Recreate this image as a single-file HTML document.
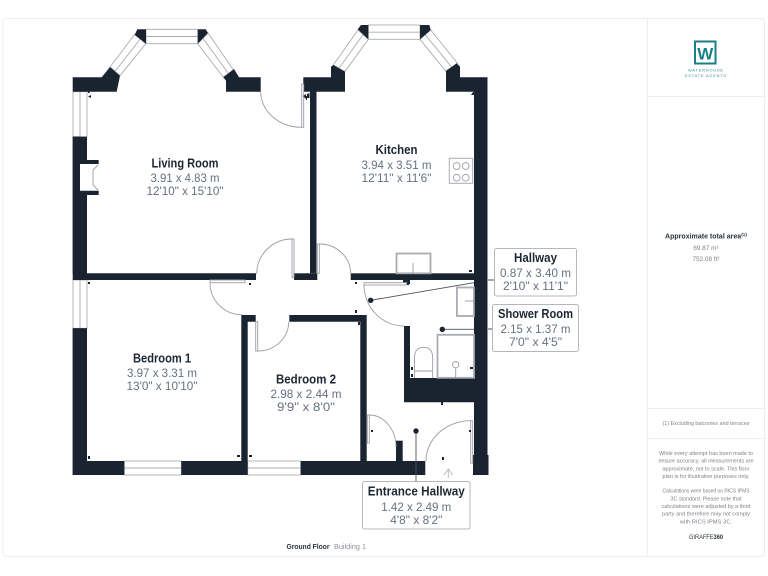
<!DOCTYPE html>
<html><head><meta charset="utf-8"><style>
html,body{margin:0;padding:0;background:#fff;width:768px;height:576px;overflow:hidden}
svg{display:block}
text{font-family:"Liberation Sans",sans-serif;text-anchor:middle}
.t{font-weight:bold;font-size:12.5px;fill:#1d2733}
.d{font-size:12px;fill:#667180}
.w{fill:#1a2431}
.g{fill:#fff;stroke:#a9adb2;stroke-width:.9}
.l{fill:none;stroke:#9a9ea4;stroke-width:.9}
.lb{fill:#fff;stroke:#b4b8bc;stroke-width:1}
.p{stroke:#4a525c;stroke-width:.9;fill:none}
.s{font-size:5.6px;fill:#7d838a}
.f{fill:#fff;stroke:#a9adb2;stroke-width:1.8}
</style></head><body>
<svg width="768" height="576" viewBox="0 0 768 576" xmlns="http://www.w3.org/2000/svg">
<rect x="3" y="18.5" width="761.5" height="538" rx="3" fill="#fff" stroke="#eceef0"/>
<path d="M647.5 18.5V556.5M647.5 96.5H764.5M647.5 408.5H764.5M647.5 438.5H764.5" stroke="#eceef0" fill="none"/>

<!-- windows -->
<g class="g">
<rect x="146" y="29.3" width="52" height="14.4"/><path d="M146 36.5H198"/>
<path d="M135 34L110 67L120 75.7L145.7 43.7Z"/><path d="M140.3 39L115 71.3"/>
<path d="M208 33L233.5 70L223.3 77.3L197.7 43.7Z"/><path d="M203 38.3L228.5 73.6"/>
<rect x="368.3" y="25" width="51.7" height="14.3"/><path d="M368.3 32.2H420"/>
<path d="M358 30L333.3 65L345 71.5L368.3 39.3Z"/><path d="M363 34.7L339 68.3"/>
<path d="M430.7 30L457.7 63.5L445.7 71L420 39.3Z"/><path d="M425.3 34.7L451.7 67.2"/>
<rect x="73" y="91.7" width="14" height="45"/><path d="M80 91.7V136.7"/>
<rect x="73" y="280" width="14" height="48.3"/><path d="M80 280V328.3"/>
<rect x="124.3" y="461" width="57" height="14"/><path d="M124.3 468H181.3"/>
<rect x="247.7" y="461" width="53" height="14"/><path d="M247.7 468H300.7"/>
</g>

<!-- walls -->
<g class="w">
<path d="M72.7 77.3H101.7L110 67L120 75.7L116.7 91.7H72.7Z"/>
<path d="M137.3 29.3H146V43.7L134.7 35Z"/>
<path d="M197.7 29.3H205.7L208 33L197.7 43.7Z"/>
<path d="M234 69L239 77.3H260.7V91.7H226V80.7L223.3 77.3Z"/>
<path d="M303.3 77.3H331V66.7L333.3 65L345 71.7V91.7H316.5V273.3H310V91.7H303.3Z"/>
<path d="M361 25H368.3V39.3L357.7 29.3Z"/>
<path d="M420 25H429.3L430.7 30L420 39.3Z"/>
<path d="M446 71L456.7 63.3L460 66.7V77.3H487.5V455H488.5V475H473V455H474V91.7H446Z"/>
<path d="M72.7 136.7H87V160H98.7V164H80V190.7H98.7V195H87V273.3H256V280H87V328.3H87V461H124.3V475H72.7V328.3H87V280H72.7V273.3Z" fill-rule="nonzero"/>
<rect x="72.7" y="136.7" width="7.3" height="136.6"/>
<rect x="72.7" y="328.3" width="14.3" height="146.7"/>
<rect x="181.3" y="461" width="66.4" height="14"/>
<path d="M241.3 315H255.7V321.7H247.7V461H241.3Z"/>
<path d="M289.3 315H366.7V461H360.3V321.7H289.3Z"/>
<rect x="294" y="273.3" width="23.3" height="6.7"/>
<rect x="350.7" y="273.3" width="123.5" height="6.7"/>
<rect x="403" y="280" width="7" height="4"/>
<rect x="300.7" y="461" width="124.6" height="14"/>
<rect x="396" y="440.7" width="6.7" height="20.3"/>
<path d="M404 326H410V378H474V402.3H404Z"/>
</g>

<!-- fireplace inner -->
<path d="M98 165L93 170V185L98 190" class="l"/>

<!-- doors -->
<g class="l">
<rect x="301.7" y="84" width="2" height="43.3" fill="#fff"/><path d="M260.7 91.7A41 35.6 0 0 0 301.7 127.3"/>
<rect x="292" y="239" width="2" height="38.7" fill="#fff"/><path d="M292 239A35.3 35 0 0 0 256.7 274"/>
<rect x="317.3" y="244" width="2" height="29.3" fill="#fff"/><path d="M319.3 244A31.2 29 0 0 1 350.5 273"/>
<rect x="210" y="280" width="35" height="2.7" fill="#fff"/><path d="M210 282.7A31.7 32 0 0 0 241.7 314.7"/>
<rect x="255.7" y="321.7" width="2" height="29.3" fill="#fff"/><path d="M257.7 351A31 29.3 0 0 0 288.7 321.7"/>
<rect x="364" y="282.7" width="42.7" height="2.3" fill="#fff"/><path d="M364 285A40 41 0 0 0 404 326"/>
<rect x="367.3" y="415" width="2" height="28" fill="#fff"/><path d="M369.3 415A26.7 32 0 0 1 396 447"/>
<rect x="470.7" y="420.7" width="2" height="42.3" fill="#fff"/><path d="M470.7 420.7A44.7 40.3 0 0 0 426 461"/>
<path d="M444 475L448.3 469L452.7 475M448.3 469V478" stroke="#b5b8bc"/>
</g>

<!-- fixtures -->
<rect class="f" x="396.5" y="253.5" width="34" height="19.8"/><path class="l" d="M413 263V273"/>
<rect class="f" x="456.9" y="287.5" width="17" height="28.5"/><path class="l" d="M465 301H474"/>
<rect class="f" x="437.5" y="334.8" width="36.5" height="43"/>
<circle class="l" cx="455.7" cy="364.7" r="3.2"/><path class="l" d="M455.7 368V378"/>
<path class="l" d="M414.5 378V358Q414.5 347.3 423.5 347.3Q432.7 347.3 432.7 358V378M414.5 371H432.7"/>
<rect x="449.3" y="158.3" width="23.4" height="25" fill="#fff" stroke="#a9adb2"/>
<g class="l"><circle cx="456.7" cy="166" r="3.4"/><circle cx="465.7" cy="166" r="3.4"/><circle cx="456.7" cy="177.7" r="3.4"/><circle cx="465.7" cy="177.7" r="3.4"/></g>

<!-- ticks -->
<g class="w">
<path d="M88 96.5L91 95V98ZM303 96L306 94V99ZM306 96H307V100H306Z"/>
<path d="M307 94L309.5 93V98H307ZM473 92H475V95H471Z"/>
<path d="M88 89.5L90 93H88ZM87 275H90V278H87Z"/>
<rect x="249" y="283" width="2" height="2"/>
<rect x="355" y="282" width="2" height="2"/>
<rect x="355" y="310" width="2" height="3"/>
<rect x="358" y="322" width="2" height="3"/>
<rect x="407" y="283" width="2" height="2"/>
<rect x="441" y="402" width="2" height="3"/>
<rect x="371" y="430" width="2" height="2"/>
<rect x="469" y="430" width="2" height="2"/>
<rect x="442" y="457" width="2" height="3"/>
<rect x="88" y="282" width="2" height="2"/>
<rect x="88" y="456" width="2" height="3"/>
<rect x="237" y="455" width="3" height="2"/>
<rect x="249" y="455" width="3" height="2"/>
<rect x="411" y="367" width="2" height="3"/>
<rect x="411" y="374" width="2" height="3"/>
<rect x="470" y="367" width="3" height="2"/>
<rect x="469" y="270" width="3" height="2"/>
</g>

<!-- pointers -->
<g class="p">
<path d="M370.7 300.3L474 282.7M488 280H494"/>
<path d="M442.3 329.3H474M488 329H492.3"/>
<path d="M416 431V481.3"/>
</g>
<circle class="w" cx="370.7" cy="300.3" r="2.7"/>
<circle class="w" cx="442.3" cy="329.3" r="2.7"/>
<circle class="w" cx="416" cy="431" r="2.7"/>

<!-- label boxes -->
<rect class="lb" x="494.5" y="248.5" width="82" height="47.5" rx="2"/>
<rect class="lb" x="492.5" y="304.5" width="86" height="47" rx="2"/>
<rect class="lb" x="362.5" y="481.5" width="107.5" height="47.5" rx="2"/>

<!-- labels -->
<text class="t" x="185" y="167.5" textLength="67" lengthAdjust="spacingAndGlyphs">Living Room</text>
<text class="d" x="185" y="182" textLength="69" lengthAdjust="spacingAndGlyphs">3.91 x 4.83 m</text>
<text class="d" x="185" y="195" textLength="77" lengthAdjust="spacingAndGlyphs">12'10" x 15'10"</text>
<text class="t" x="396.5" y="154" textLength="42" lengthAdjust="spacingAndGlyphs">Kitchen</text>
<text class="d" x="396.5" y="169" textLength="70" lengthAdjust="spacingAndGlyphs">3.94 x 3.51 m</text>
<text class="d" x="396.5" y="182" textLength="70" lengthAdjust="spacingAndGlyphs">12'11" x 11'6"</text>
<text class="t" x="162" y="362.5" textLength="58" lengthAdjust="spacingAndGlyphs">Bedroom 1</text>
<text class="d" x="162" y="377" textLength="70" lengthAdjust="spacingAndGlyphs">3.97 x 3.31 m</text>
<text class="d" x="162" y="390" textLength="71" lengthAdjust="spacingAndGlyphs">13'0" x 10'10"</text>
<text class="t" x="306" y="383.5" textLength="60" lengthAdjust="spacingAndGlyphs">Bedroom 2</text>
<text class="d" x="306" y="398" textLength="71" lengthAdjust="spacingAndGlyphs">2.98 x 2.44 m</text>
<text class="d" x="306" y="411" textLength="58" lengthAdjust="spacingAndGlyphs">9'9" x 8'0"</text>
<text class="t" x="535.5" y="262" textLength="43" lengthAdjust="spacingAndGlyphs">Hallway</text>
<text class="d" x="535.5" y="277" textLength="71" lengthAdjust="spacingAndGlyphs">0.87 x 3.40 m</text>
<text class="d" x="535.5" y="290" textLength="65" lengthAdjust="spacingAndGlyphs">2'10" x 11'1"</text>
<text class="t" x="535.5" y="318" textLength="75" lengthAdjust="spacingAndGlyphs">Shower Room</text>
<text class="d" x="535.5" y="333" textLength="70" lengthAdjust="spacingAndGlyphs">2.15 x 1.37 m</text>
<text class="d" x="535.5" y="346" textLength="53" lengthAdjust="spacingAndGlyphs">7'0" x 4'5"</text>
<text class="t" x="416.3" y="495.5" textLength="97" lengthAdjust="spacingAndGlyphs">Entrance Hallway</text>
<text class="d" x="416.3" y="511" textLength="70" lengthAdjust="spacingAndGlyphs">1.42 x 2.49 m</text>
<text class="d" x="416.3" y="524" textLength="52" lengthAdjust="spacingAndGlyphs">4'8" x 8'2"</text>

<text x="308" y="549" style="font-size:7.6px;font-weight:bold;fill:#2a323c" textLength="43" lengthAdjust="spacingAndGlyphs">Ground Floor</text>
<text x="350" y="549" style="font-size:7.6px;fill:#8b9098" textLength="32" lengthAdjust="spacingAndGlyphs">Building 1</text>

<!-- logo -->
<rect x="695" y="41.5" width="20.5" height="22" fill="none" stroke="#1a7f86" stroke-width="2"/>
<text x="705.2" y="59.5" style="font-size:17px;font-weight:bold;fill:#1a7f86" textLength="16" lengthAdjust="spacingAndGlyphs">W</text>
<text x="705.5" y="71.5" style="font-size:3.9px;fill:#2f8a91" textLength="35">WATERHOUSE</text>
<text x="705.5" y="77" style="font-size:3.9px;fill:#2f8a91" textLength="41">ESTATE AGENTS</text>

<!-- right panel -->
<text x="706" y="238.5" style="font-size:7.6px;font-weight:bold;fill:#2a323c" textLength="82" lengthAdjust="spacingAndGlyphs">Approximate total area⁽¹⁾</text>
<text x="706" y="250" style="font-size:6.4px;fill:#7d838a">69.87 m²</text>
<text x="706" y="261" style="font-size:6.4px;fill:#7d838a">752.08 ft²</text>
<text class="s" x="706" y="425" textLength="87" lengthAdjust="spacingAndGlyphs">(1) Excluding balconies and terraces</text>
<text class="s" x="706" y="455" textLength="94" lengthAdjust="spacingAndGlyphs">While every attempt has been made to</text>
<text class="s" x="706" y="462.7" textLength="95" lengthAdjust="spacingAndGlyphs">ensure accuracy, all measurements are</text>
<text class="s" x="706" y="470.3" textLength="87" lengthAdjust="spacingAndGlyphs">approximate, not to scale. This floor</text>
<text class="s" x="706" y="478" textLength="87" lengthAdjust="spacingAndGlyphs">plan is for illustrative purposes only.</text>
<text class="s" x="706" y="492.7" textLength="87" lengthAdjust="spacingAndGlyphs">Calculations were based on RICS IPMS</text>
<text class="s" x="706" y="500.3" textLength="71" lengthAdjust="spacingAndGlyphs">3C standard. Please note that</text>
<text class="s" x="706" y="508" textLength="89" lengthAdjust="spacingAndGlyphs">calculations were adjusted by a third</text>
<text class="s" x="706" y="515.7" textLength="88" lengthAdjust="spacingAndGlyphs">party and therefore may not comply</text>
<text class="s" x="706" y="523.3" textLength="52" lengthAdjust="spacingAndGlyphs">with RICS IPMS 3C.</text>
<text x="706" y="539" style="font-size:6.2px;fill:#2a323c" textLength="34" lengthAdjust="spacingAndGlyphs">GIRAFFE<tspan font-weight="bold">360</tspan></text>
</svg>
</body></html>
